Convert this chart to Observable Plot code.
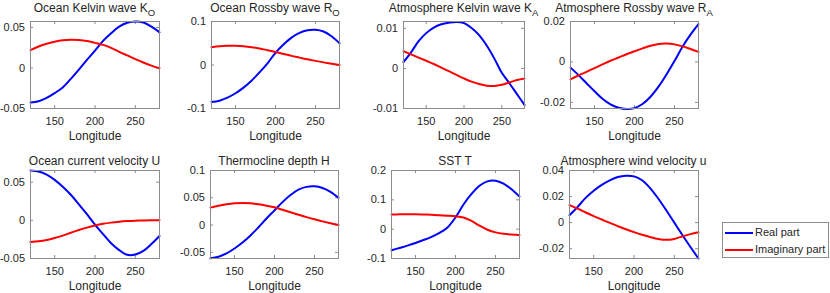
<!DOCTYPE html>
<html><head><meta charset="utf-8">
<script src="https://cdn.jsdelivr.net/npm/d3@7"></script>
<script src="https://cdn.jsdelivr.net/npm/@observablehq/plot@0.6"></script>
<style>
body{margin:0;background:#fff;}
#fig{position:relative;width:830px;height:293px;overflow:hidden;background:#fff;font-family:"Liberation Sans",Arial,Helvetica,sans-serif;color:#262626;}
.panel{position:absolute;}
.panel svg{overflow:visible;}
.title{position:absolute;font-size:12px;line-height:12px;white-space:nowrap;transform:translateX(-50%);}
.title sub{font-size:9.5px;vertical-align:baseline;position:relative;top:4px;}
#legend{position:absolute;left:722px;top:222px;width:107px;height:36px;border:1px solid #8c8c8c;background:#fff;box-sizing:border-box;font-size:11px;}
.entry{position:absolute;left:2px;height:12px;line-height:12px;white-space:nowrap;}
.entry svg{vertical-align:middle;}
.entry span{position:relative;left:2px;}
</style>
</head><body>
<div id="fig"></div>
<script>
// ---- data ----
const lon = [120,130,140,150,160,170,180,190,200,210,220,230,240,250,260,270,280];
const xTicks = [150, 200, 250];

const koReal = [-0.0425,-0.041,-0.037,-0.031,-0.024,-0.0135,-0.002,0.010,0.0214,0.0335,0.043,0.051,0.0558,0.0574,0.0562,0.051,0.044];
const koImag = [0.022,0.0265,0.030,0.0325,0.0342,0.035,0.0345,0.0332,0.031,0.0285,0.0248,0.020,0.0155,0.011,0.0068,0.003,-0.0003];

const roReal = [-0.085,-0.082,-0.075,-0.065,-0.052,-0.036,-0.017,0.004,0.028,0.047,0.063,0.074,0.080,0.081,0.077,0.066,0.050];
const roImag = [0.041,0.043,0.044,0.044,0.043,0.041,0.038,0.034,0.030,0.0255,0.021,0.017,0.013,0.0095,0.006,0.003,0.0];

const kaReal = [0.0016,0.0040,0.0068,0.0088,0.0102,0.0110,0.0114,0.0116,0.0113,0.0101,0.0083,0.0057,0.0025,-0.0011,-0.0037,-0.0064,-0.0091];
const kaImag = [0.0043,0.0035,0.0027,0.0019,0.0011,0.0002,-0.0007,-0.0016,-0.0025,-0.0033,-0.0039,-0.0043,-0.0044,-0.0041,-0.0035,-0.0029,-0.0025];

const raReal = [-0.0028,-0.0065,-0.0105,-0.0145,-0.0182,-0.021,-0.0226,-0.0232,-0.0228,-0.0208,-0.0172,-0.0122,-0.0062,0.0005,0.0075,0.0135,0.0187];
const raImag = [-0.0086,-0.0067,-0.0049,-0.0030,-0.0012,0.0006,0.0022,0.0038,0.0053,0.0067,0.0080,0.0089,0.0091,0.0087,0.0077,0.0064,0.0050];

const uReal = [0.0653,0.064,0.060,0.053,0.044,0.0335,0.021,0.008,-0.0055,-0.018,-0.030,-0.039,-0.0452,-0.0448,-0.040,-0.031,-0.0205];
const uImag = [-0.0285,-0.0275,-0.0258,-0.0232,-0.020,-0.0163,-0.0127,-0.0095,-0.0068,-0.0046,-0.003,-0.0018,-0.001,-0.0005,-0.0002,0.0,0.0];

const hReal = [-0.061,-0.058,-0.052,-0.043,-0.032,-0.019,-0.004,0.012,0.027,0.042,0.055,0.065,0.070,0.071,0.068,0.061,0.050];
const hImag = [0.032,0.0355,0.038,0.0398,0.0405,0.0398,0.038,0.0355,0.0325,0.028,0.0235,0.019,0.0145,0.0105,0.0068,0.0033,0.0];

const tReal = [-0.072,-0.064,-0.056,-0.047,-0.037,-0.026,-0.013,0.006,0.040,0.084,0.120,0.148,0.163,0.165,0.155,0.136,0.111];
const tImag = [0.050,0.0505,0.051,0.0508,0.050,0.049,0.0475,0.046,0.044,0.040,0.028,0.012,-0.002,-0.011,-0.016,-0.0185,-0.0195];

const waReal = [0.0057,0.012,0.019,0.0245,0.029,0.0325,0.035,0.036,0.0355,0.0325,0.0265,0.0185,0.0095,0.0,-0.0095,-0.0187,-0.0275];
const waImag = [0.0135,0.0108,0.0078,0.005,0.0024,-0.0002,-0.0027,-0.0051,-0.0073,-0.0093,-0.011,-0.0125,-0.0132,-0.0125,-0.0105,-0.0088,-0.0073];

const titles = ["Ocean Kelvin wave K","Ocean Rossby wave R","Atmosphere Kelvin wave K","Atmosphere Rossby wave R",
                "Ocean current velocity U","Thermocline depth H","SST T","Atmosphere wind velocity u"];
const subs = ["O","O","A","A","","","",""];
const yTicksList = [[-0.05,0,0.05],[-0.1,0,0.1],[-0.01,0,0.01],[-0.02,0,0.02],
                    [-0.05,0,0.05],[-0.05,0,0.05,0.1],[-0.1,0,0.1,0.2],[-0.02,0,0.02,0.04]];
const yDomains = [[-0.05,0.0574],[-0.1,0.1],[-0.01,0.0117],[-0.023,0.02],
                  [-0.05,0.0653],[-0.0613,0.1],[-0.1,0.2],[-0.0275,0.04]];
const seriesNames = ["Real part","Imaginary part"];
const realSeries = [koReal,roReal,kaReal,raReal,uReal,hReal,tReal,waReal];
const imagSeries = [koImag,roImag,kaImag,raImag,uImag,hImag,tImag,waImag];

// ---- layout (axes boxes in page pixels) ----
const boxes = [
  [30,159,21,108],[211,339,21,108],[403,524,21,108],[570,698,21,108],
  [30,159,170,258],[210,338,170,258],[391,519,170,258],[569,698,170,258]
];
const colors = {"Real part":"#0000ff","Imaginary part":"#ff0000"};
const fig = document.getElementById("fig");
const fmt = d => String(d);
const mL = 44, mR = 4, mT = 4, mB = 40;
const axisColor = "#8c8c8c";

boxes.forEach((b, i) => {
  const [x0,x1,y0,y1] = b;
  const w = x1 - x0, h = y1 - y0;
  const data = [];
  lon.forEach((x, k) => {
    data.push({lon: x, v: realSeries[i][k], s: seriesNames[0]});
  });
  lon.forEach((x, k) => {
    data.push({lon: x, v: imagSeries[i][k], s: seriesNames[1]});
  });
  const yt = yTicksList[i];
  const chart = Plot.plot({
    width: w + mL + mR, height: h + mT + mB,
    marginLeft: mL, marginRight: mR, marginTop: mT, marginBottom: mB,
    style: {fontFamily: '"Liberation Sans", Arial, Helvetica, sans-serif', fontSize: "11px", color: "#262626", background: "transparent"},
    x: {domain: [120, 280]},
    y: {domain: yDomains[i]},
    color: {domain: seriesNames, range: [colors["Real part"], colors["Imaginary part"]]},
    marks: [
      Plot.axisX({ticks: xTicks, tickSize: 0, tickPadding: 8.5, tickFormat: fmt, label: null}),
      Plot.axisY({ticks: yt, tickSize: 0, tickPadding: 5.5, tickFormat: fmt, label: null}),
      Plot.tickX(xTicks, {x: d => d, insetTop: h - 3, stroke: axisColor}),
      Plot.tickX(xTicks, {x: d => d, insetBottom: h - 3, stroke: axisColor}),
      Plot.tickY(yt, {y: d => d, insetRight: w - 3, stroke: axisColor}),
      Plot.tickY(yt, {y: d => d, insetLeft: w - 3, stroke: axisColor}),
      Plot.line(data, {x: "lon", y: "v", z: "s", stroke: "s", strokeWidth: 2, curve: "catmull-rom"}),
      Plot.frame({stroke: axisColor, strokeWidth: 1}),
      Plot.text(["Longitude"], {frameAnchor: "bottom", lineAnchor: "middle", text: d => d, dy: 27.8, fontSize: 12, fill: "#262626"})
    ]
  });
  const div = document.createElement("div");
  div.className = "panel";
  div.style.left = (x0 - mL) + "px";
  div.style.top = (y0 - mT) + "px";
  div.appendChild(chart);
  fig.appendChild(div);

  const t = document.createElement("div");
  t.className = "title";
  t.style.left = ((x0 + x1) / 2) + "px";
  t.style.top = (i < 4 ? 2.3 : 154.5) + "px";
  t.innerHTML = titles[i] + (subs[i] ? "<sub>" + subs[i] + "</sub>" : "");
  fig.appendChild(t);
});

// legend
const leg = document.createElement("div");
leg.id = "legend";
seriesNames.forEach((name, k) => {
  const e = document.createElement("div");
  e.className = "entry";
  e.style.top = (3 + k * 16.5) + "px";
  e.innerHTML = '<svg width="28" height="4"><line x1="0" y1="2" x2="28" y2="2" stroke="' + colors[name] + '" stroke-width="2"/></svg><span>' + name + '</span>';
  leg.appendChild(e);
});
fig.appendChild(leg);
</script>
</body></html>
